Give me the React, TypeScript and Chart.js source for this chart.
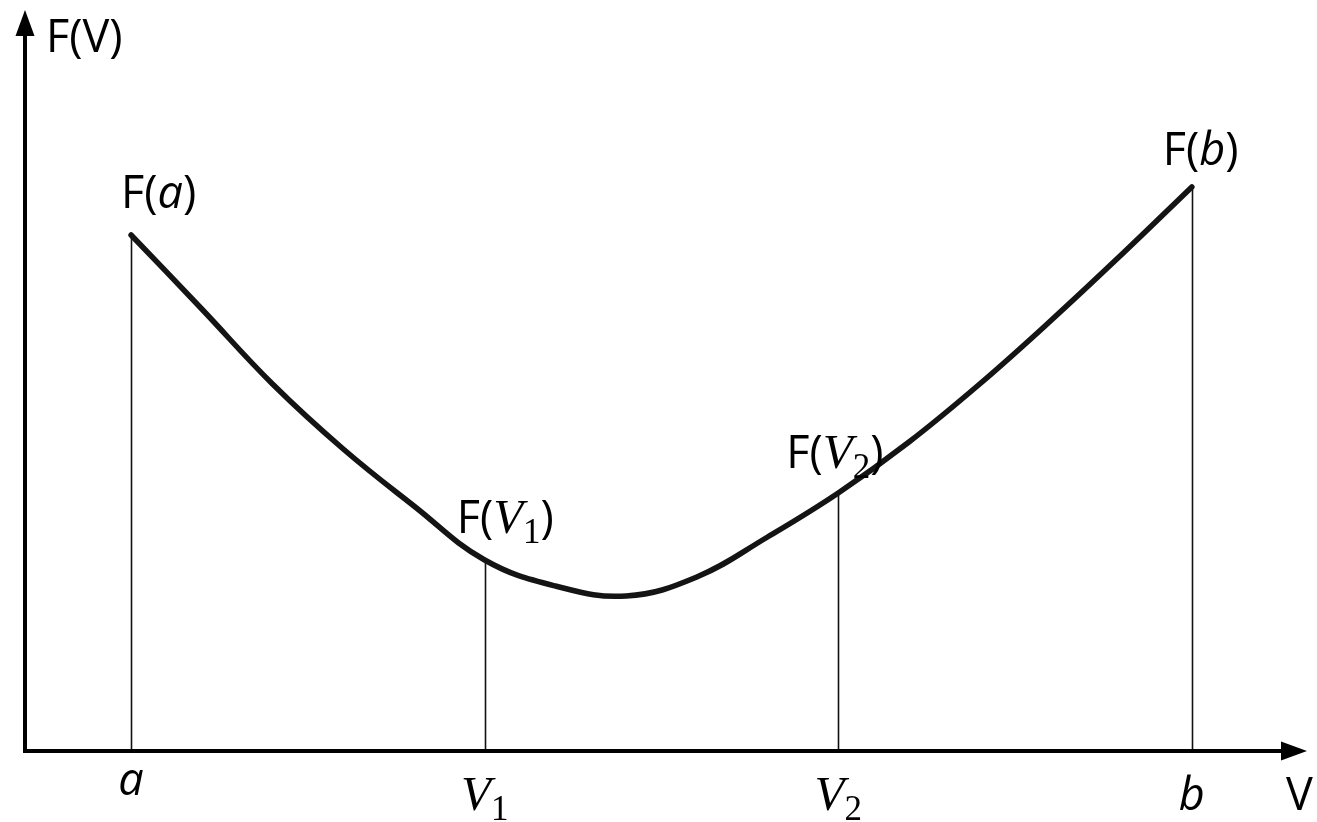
import React, { useEffect, useRef } from 'react';
import { Chart, registerables } from 'chart.js';
Chart.register(...registerables);

// Curve F(V) (x: a=1, V1=2, V2=3, b=4; y in arbitrary units)
const curveX = [1.0, 1.2, 1.4, 1.6, 1.8, 2.0, 2.2, 2.4, 2.6, 2.8, 3.0, 3.2, 3.4, 3.6, 3.8, 4.0];
const curveY = [5.16, 4.42, 3.67, 3.02, 2.45, 1.91, 1.65, 1.55, 1.74, 2.14, 2.58, 3.09, 3.67, 4.3, 4.96, 5.64];

// Marked abscissas and their labels
const markX = [1, 2, 3, 4];
const markNames = ['a', 'V', 'V', 'b'];
const markSubs = ['', '1', '2', ''];
const markSerif = [false, true, true, false];

const axisYLabel = 'F(V)';
const axisXLabel = 'V';

const SANS = '"Open Sans", "Noto Sans", sans-serif';
const SERIF = '"Liberation Serif", "DejaVu Serif", serif';
const FS = 45;

type Part = { text: string; font: string; dy?: number };

function nameParts(i: number): Part[] {
  const parts: Part[] = [];
  if (markSerif[i]) {
    parts.push({ text: markNames[i], font: `italic ${FS + 4}px ${SERIF}` });
  } else {
    parts.push({ text: markNames[i], font: `italic ${FS}px ${SANS}` });
  }
  if (markSubs[i]) parts.push({ text: markSubs[i], font: `${FS - 10}px ${SERIF}`, dy: 10 });
  return parts;
}

function measure(ctx: CanvasRenderingContext2D, parts: Part[]) {
  let w = 0;
  for (const p of parts) {
    ctx.font = p.font;
    w += ctx.measureText(p.text).width;
  }
  return w;
}

function drawRich(ctx: CanvasRenderingContext2D, parts: Part[], x: number, y: number) {
  let cx = x;
  ctx.textBaseline = 'alphabetic';
  ctx.textAlign = 'left';
  for (const p of parts) {
    ctx.font = p.font;
    ctx.fillText(p.text, cx, y + (p.dy || 0));
    cx += ctx.measureText(p.text).width;
  }
}

// label offsets (pixels) relative to the curve point above each mark
const pointLabelOffsets = [
  [-10, -27],
  [-28, -27],
  [-52, -25],
  [-29, -22],
];
const tickBaselines = [44, 59, 59, 59];

const decorPlugin = {
  id: 'decor',
  beforeDatasetsDraw(chart: any) {
    const { ctx, scales } = chart;
    const xs = scales.x;
    const ys = scales.y;
    ctx.save();
    ctx.strokeStyle = '#111';
    ctx.lineWidth = 1.6;
    markX.forEach((mx) => {
      const idx = curveX.indexOf(mx);
      const px = Math.round(xs.getPixelForValue(mx)) + 0.5;
      ctx.beginPath();
      ctx.moveTo(px, ys.getPixelForValue(0));
      ctx.lineTo(px, ys.getPixelForValue(curveY[idx]));
      ctx.stroke();
    });
    ctx.restore();
  },
  afterDraw(chart: any) {
    const { ctx, scales, chartArea } = chart;
    const xs = scales.x;
    const ys = scales.y;
    const ox = chartArea.left;
    const oy = chartArea.bottom;
    ctx.save();
    ctx.strokeStyle = '#000';
    ctx.fillStyle = '#000';
    ctx.lineWidth = 4;
    // y axis
    ctx.beginPath();
    ctx.moveTo(ox, oy + 2);
    ctx.lineTo(ox, chartArea.top + 20);
    ctx.stroke();
    ctx.beginPath();
    ctx.moveTo(ox, chartArea.top - 2);
    ctx.lineTo(ox - 9.5, chartArea.top + 24);
    ctx.lineTo(ox + 9.5, chartArea.top + 24);
    ctx.closePath();
    ctx.fill();
    // x axis
    ctx.beginPath();
    ctx.moveTo(ox - 2, oy);
    ctx.lineTo(chartArea.right - 20, oy);
    ctx.stroke();
    ctx.beginPath();
    ctx.moveTo(chartArea.right + 2, oy);
    ctx.lineTo(chartArea.right - 24, oy - 9.5);
    ctx.lineTo(chartArea.right - 24, oy + 9.5);
    ctx.closePath();
    ctx.fill();

    // axis titles
    drawRich(ctx, [{ text: axisYLabel, font: `${FS}px ${SANS}` }], ox + 21, chartArea.top + 40);
    drawRich(ctx, [{ text: axisXLabel, font: `${FS}px ${SANS}` }], chartArea.right - 19, oy + 59);

    // tick labels and point labels
    markX.forEach((mx, i) => {
      const idx = curveX.indexOf(mx);
      const px = xs.getPixelForValue(mx);
      const py = ys.getPixelForValue(curveY[idx]);
      const np = nameParts(i);
      const w = measure(ctx, np);
      drawRich(ctx, np, px - w / 2, oy + tickBaselines[i]);
      const lp: Part[] = [{ text: 'F(', font: `${FS}px ${SANS}` }, ...nameParts(i), { text: ')', font: `${FS}px ${SANS}` }];
      drawRich(ctx, lp, px + pointLabelOffsets[i][0], py + pointLabelOffsets[i][1]);
    });
    ctx.restore();
  },
};

export default function App() {
  const ref = useRef<HTMLCanvasElement | null>(null);
  useEffect(() => {
    document.body.style.margin = '0';
    document.body.style.overflow = 'hidden';
    const canvas = ref.current;
    if (!canvas) return;
    const chart = new Chart(canvas, {
      type: 'line',
      data: {
        datasets: [
          {
            data: curveX.map((x, i) => ({ x, y: curveY[i] })),
            borderColor: '#141414',
            borderWidth: 5.5,
            pointRadius: 0,
            tension: 0.4,
            fill: false,
            borderCapStyle: 'round',
          },
        ],
      },
      options: {
        animation: false,
        responsive: false,
        layout: { padding: { left: 25, right: 12, top: 12, bottom: 71 } },
        plugins: { legend: { display: false }, tooltip: { enabled: false } },
        scales: {
          x: { type: 'linear', min: 0.7, max: 4.32, display: false },
          y: { type: 'linear', min: 0, max: 7.39, display: false },
        },
      },
      plugins: [decorPlugin],
    });
    return () => chart.destroy();
  }, []);
  return <canvas ref={ref} width={1317} height={822} style={{ display: 'block' }} />;
}
